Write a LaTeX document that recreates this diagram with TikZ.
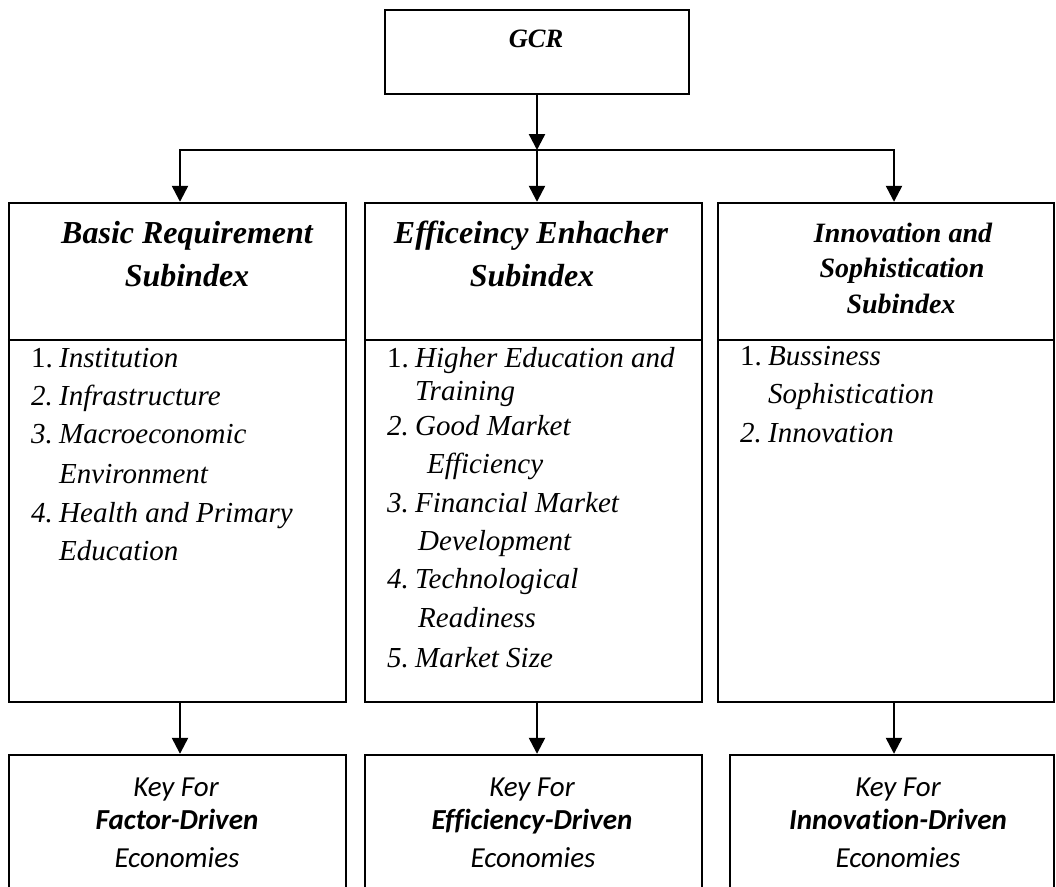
\documentclass[tikz,border=0pt]{standalone}
\usepackage{fontspec}
\setmainfont{Liberation Serif}
\newfontfamily\keyfont[Ligatures=CommonOff]{Carlito}
\usetikzlibrary{arrows.meta}
\begin{document}
\begin{tikzpicture}[x=1pt,y=-1pt,
  frame/.style={draw, line width=2.4pt, inner sep=0pt},
  rule/.style={line width=2.4pt},
  arr/.style={line width=2.4pt, line join=miter, -{Triangle[width=16pt,length=16pt]}},
  head/.style={anchor=base, inner sep=0pt, font=\fontsize{32}{42}\selectfont\bfseries\itshape},
  headsmall/.style={anchor=base, inner sep=0pt, font=\fontsize{28}{36}\selectfont\bfseries\itshape},
  item/.style={anchor=base west, inner sep=0pt, font=\fontsize{29}{38}\selectfont\itshape},
  keytext/.style={anchor=base, inner sep=0pt, font=\keyfont\fontsize{29}{35}\selectfont\itshape}]
\newcommand{\num}[1]{\makebox[28pt][l]{#1}}
\clip (0,0) rectangle (1056,886);
\fill[white] (0,0) rectangle (1056,886);

% top box
\node[frame, minimum width=304pt, minimum height=84pt] (gcr) at (537,52) {};
\node[anchor=base, inner sep=0pt, font=\fontsize{26.5}{30}\selectfont\bfseries\itshape] (gcrlabel) at (536,47) {GCR};

% subindex boxes
\node[frame, minimum width=337pt, minimum height=499pt] (b1) at (177.5,452.5) {};
\node[frame, minimum width=337pt, minimum height=499pt] (b2) at (533.5,452.5) {};
\node[frame, minimum width=336pt, minimum height=499pt] (b3) at (886,452.5) {};
\coordinate (div) at (0,340);
\draw[rule] (b1.west |- div) -- (b1.east |- div);
\draw[rule] (b2.west |- div) -- (b2.east |- div);
\draw[rule] (b3.west |- div) -- (b3.east |- div);

% economy boxes (open at the lower edge)
\node[frame, minimum width=337pt, minimum height=150pt] (k1) at (177.5,830) {};
\node[frame, minimum width=337pt, minimum height=150pt] (k2) at (533.5,830) {};
\node[frame, minimum width=324pt, minimum height=150pt] (k3) at (892,830) {};

% connectors
\coordinate (bus) at (537,150);
\coordinate (j1) at (180,150);
\coordinate (j3) at (894,150);
\draw[arr] (gcr.south) -- (bus);
\draw[arr] (bus) -- (j1) -- (j1 |- b1.north);
\draw[arr] (bus) -- (j3) -- (j3 |- b3.north);
\draw[arr] (bus) -- (bus |- b2.north);
\draw[arr] (j1 |- b1.south) -- (j1 |- k1.north);
\draw[arr] (bus |- b2.south) -- (bus |- k2.north);
\draw[arr] (j3 |- b3.south) -- (j3 |- k3.north);

% headings
\node[head] (h1a) at (187,243) {Basic Requirement};
\node[head] (h1b) at (187,286) {Subindex};
\node[head] (h2a) at (531,243) {Efficeincy Enhacher};
\node[head] (h2b) at (532,286) {Subindex};
\node[headsmall] (h3a) at (903,242) {Innovation and};
\node[headsmall] (h3b) at (902,277) {Sophistication};
\node[headsmall] (h3c) at (901,313) {Subindex};

% pillars, first column
\node[item] (p11) at (31,367) {\num{\upshape 1.}Institution};
\node[item] (p12) at (31,405) {\num{2.}Infrastructure};
\node[item] (p13) at (31,443) {\num{3.}Macroeconomic};
\node[item] (p13b) at (59,483) {Environment};
\node[item] (p14) at (31,522) {\num{4.}Health and Primary};
\node[item] (p14b) at (59,560) {Education};

% pillars, second column
\node[item] (p21) at (387,367) {\num{\upshape 1.}Higher Education and};
\node[item] (p21b) at (415,400) {Training};
\node[item] (p22) at (387,435) {\num{2.}Good Market};
\node[item] (p22b) at (427,473) {Efficiency};
\node[item] (p23) at (387,512) {\num{3.}Financial Market};
\node[item] (p23b) at (418,550) {Development};
\node[item] (p24) at (387,588) {\num{4.}Technological};
\node[item] (p24b) at (418,627) {Readiness};
\node[item] (p25) at (387,667) {\num{5.}Market Size};

% pillars, third column
\node[item] (p31) at (740,365) {\num{\upshape 1.}Bussiness};
\node[item] (p31b) at (768,403) {Sophistication};
\node[item] (p32) at (740,442) {\num{2.}Innovation};

% economy labels (\kern0pt keeps t and i as separate glyphs)
\node[keytext] (e1a) at (176,796) {Key For};
\node[keytext] (e1b) at (177,829) {\bfseries Factor-Driven};
\node[keytext] (e1c) at (177,867) {Economies};
\node[keytext] (e2a) at (532,796) {Key For};
\node[keytext] (e2b) at (532,829) {\bfseries Efficiency-Driven};
\node[keytext] (e2c) at (533,867) {Economies};
\node[keytext] (e3a) at (898,796) {Key For};
\node[keytext] (e3b) at (898,829) {\bfseries Innovat\kern0pt ion-Driven};
\node[keytext] (e3c) at (898,867) {Economies};
\end{tikzpicture}
\end{document}
